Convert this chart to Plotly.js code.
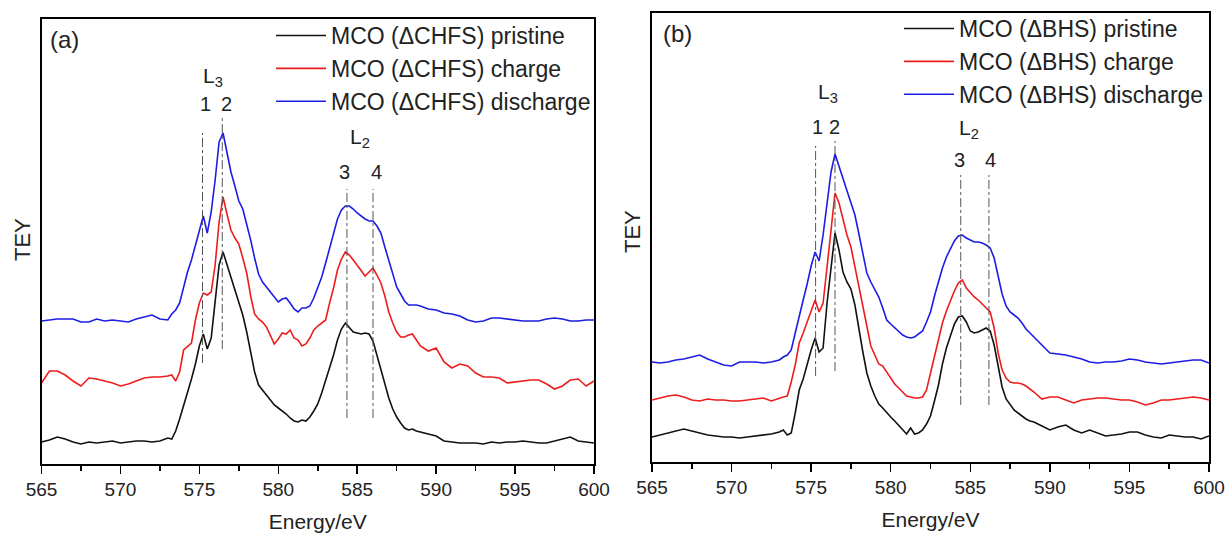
<!DOCTYPE html>
<html>
<head>
<meta charset="utf-8">
<script src="https://cdn.plot.ly/plotly-3.0.1.min.js"></script>
<style>html,body{margin:0;padding:0;background:#fff;}#chart{width:1228px;height:534px;}</style>
</head>
<body>
<div id="chart"></div>
<script>
// Photon energy (eV), shared by both panels
const energy = [565,565.5,566,566.5,567,567.5,568,568.5,569,569.5,570,570.5,571,571.5,572,572.5,573,
573.25,573.5,573.75,574,574.25,574.5,574.75,575,575.25,575.5,575.75,576,576.25,576.5,576.75,577,577.25,577.5,577.75,578,578.25,578.5,578.75,579,579.25,579.5,579.75,580,580.25,580.5,580.75,581,581.25,581.5,581.75,582,582.25,582.5,582.75,583,583.25,583.5,583.75,584,584.25,584.5,584.75,585,585.25,585.5,585.75,586,586.25,586.5,586.75,587,587.25,587.5,587.75,588,588.25,588.5,588.75,589,
589.5,590,590.5,591,591.5,592,592.5,593,593.5,594,594.5,595,595.5,596,596.5,597,597.5,598,598.5,599,599.5,600];

// Panel (a): MCO (ΔCHFS), TEY (arb. units, curves offset)
const pristineA = [22,24,27,25,22,20,22,21,22,23,21,22,23,23,22,23,26,
25,33,45,58,72,85,100,118,130,115,126,166,199,212,199,187,174,162,149,132,112,92,79,74,70,65,59,56,53,50,46,43,42,44,43,47,53,60,71,83,96,109,124,135,141,137,132,131,130,131,130,123,109,95,80,66,55,47,41,36,34,35,33,32,
30,28,23,22,21,21,21,20,22,21,22,22,23,22,21,21,23,25,27,23,22,21];
const chargeA = [81,93,93,89,83,78,86,85,83,81,78,80,83,86,87,87,88,
89,83,92,114,118,121,144,161,171,169,172,199,242,267,250,234,226,220,206,191,168,150,145,142,137,129,120,125,131,130,134,126,124,118,120,126,134,138,141,144,161,176,194,205,212,209,204,199,193,188,192,196,189,181,168,152,141,132,127,127,129,130,124,118,
113,116,102,96,100,98,91,87,87,86,81,82,83,84,84,80,75,78,84,85,78,83];
const dischargeA = [143,144,145,145,145,142,142,145,143,144,143,142,145,147,149,145,144,
150,154,161,177,192,204,219,234,248,231,252,284,322,331,310,292,278,263,255,240,224,206,190,182,177,172,168,162,165,166,161,155,152,156,156,158,166,176,187,201,216,231,245,254,258,258,255,251,248,245,243,243,238,231,217,203,189,177,170,163,159,159,159,158,
155,154,151,150,148,144,142,143,146,146,145,144,143,143,143,145,146,145,143,143,144,144];

// Panel (b): MCO (ΔBHS)
const pristineB = [25,27,29,31,33,31,29,27,26,25,25,24,25,26,27,28,30,
32,27,29,49,72,83,99,112,124,110,114,159,194,229,212,190,180,173,157,132,110,89,76,66,58,54,49,45,41,37,32,28,34,28,29,32,38,46,61,77,98,114,126,138,145,146,140,131,129,130,132,134,131,117,96,75,63,57,52,49,46,43,41,40,
36,32,35,37,32,29,32,29,26,27,28,30,30,27,25,24,27,26,25,25,23,26];
const chargeB = [62,64,66,67,65,62,61,63,62,62,61,61,62,63,64,61,64,
65,66,80,97,119,129,140,151,162,150,159,195,232,269,259,242,227,215,196,175,155,136,116,106,98,96,90,84,78,74,70,66,65,64,64,65,72,89,105,124,139,151,162,171,179,182,174,169,165,162,158,154,150,134,109,92,84,80,79,79,78,76,73,70,
63,65,65,62,59,62,63,64,64,63,62,62,60,57,59,62,62,63,64,65,64,62];
const dischargeB = [100,99,100,102,103,105,107,103,100,97,96,100,100,100,99,100,102,
105,107,112,129,147,162,178,196,210,201,227,257,290,308,296,282,272,259,247,228,209,189,180,173,165,154,142,138,134,131,127,125,124,125,128,131,140,150,166,180,194,205,213,221,226,227,224,222,220,220,219,217,214,204,186,168,156,150,147,144,139,133,129,125,
117,109,108,107,105,103,100,99,100,100,101,103,102,100,99,98,99,100,101,102,102,99];

const namesA = ['MCO (ΔCHFS) pristine','MCO (ΔCHFS) charge','MCO (ΔCHFS) discharge'];
const namesB = ['MCO (ΔBHS) pristine','MCO (ΔBHS) charge','MCO (ΔBHS) discharge'];
const colors = ['#111111','#ee1c1c','#1c1ce6'];

// Peak marker lines: energy, bottom, top (TEY units)
const peakLabels = ['1','2','3','4'];
const peakEA = [575.2, 576.45, 584.35, 586.0];
const peakLoA = [101, 115, 46, 46];
const peakHiA = [331, 346, 275, 275];
const peakEB = [575.28, 576.5, 584.4, 586.17];
const peakLoB = [86, 91, 57, 57];
const peakHiB = [316, 321, 287, 287];
const labelEA = [575.36, 576.72, 584.2, 586.2];
const labelYA = [360, 360, 292, 292];
const labelEB = [575.4, 576.45, 584.3, 586.25];
const labelYB = [335, 335, 302, 302];

const FONT = 'Liberation Sans, Arial, Helvetica, sans-serif';

const seriesA = [pristineA, chargeA, dischargeA];
const seriesB = [pristineB, chargeB, dischargeB];
const traces = [];
seriesA.forEach((s, i) => traces.push({x: energy, y: s, name: namesA[i], type: 'scatter', mode: 'lines',
  line: {color: colors[i], width: 1.6}, xaxis: 'x', yaxis: 'y', legend: 'legend'}));
seriesB.forEach((s, i) => traces.push({x: energy, y: s, name: namesB[i], type: 'scatter', mode: 'lines',
  line: {color: colors[i], width: 1.6}, xaxis: 'x2', yaxis: 'y2', legend: 'legend2'}));

function xax(domain, anchor) {
  return {domain: domain, anchor: anchor, range: [565, 600], showline: true, mirror: true, linecolor: '#000', linewidth: 1.6,
    ticks: 'outside', ticklen: 8, tickwidth: 1.5, tickcolor: '#000', dtick: 5, tick0: 565,
    minor: {ticks: 'outside', ticklen: 5, tickwidth: 1.5, dtick: 2.5, tickcolor: '#000'},
    showgrid: false, zeroline: false, automargin: false, ticklabelstandoff: 0,
    tickfont: {family: FONT, size: 19, color: '#222'},
    title: {text: 'Energy/eV', font: {family: FONT, size: 21, color: '#222'}, standoff: 15}};
}
function yax(domain, top, anchor) {
  return {domain: domain, anchor: anchor, range: [0, top], showline: true, mirror: true, linecolor: '#000', linewidth: 1.6,
    ticks: '', showticklabels: false, showgrid: false, zeroline: false, automargin: false, fixedrange: true};
}

const shapes = [];
const annotations = [];
function addPeaks(E, lo, hi, xr, yr) {
  E.forEach((e, i) => shapes.push({type: 'line', xref: xr, yref: yr, x0: e, x1: e, y0: lo[i], y1: hi[i],
    line: {color: '#555', width: 1, dash: 'dashdot'}}));
}
addPeaks(peakEA, peakLoA, peakHiA, 'x', 'y');
addPeaks(peakEB, peakLoB, peakHiB, 'x2', 'y2');

function label(text, x, y, xr, yr, size) {
  annotations.push({text: text, x: x, y: y, xref: xr, yref: yr, showarrow: false,
    font: {family: FONT, size: size, color: '#222'}, xanchor: 'center', yanchor: 'middle'});
}
labelEA.forEach((e, i) => label(peakLabels[i], e, labelYA[i], 'x', 'y', 20));
labelEB.forEach((e, i) => label(peakLabels[i], e, labelYB[i], 'x2', 'y2', 20));
label('L<sub>3</sub>', 575.85, 387, 'x', 'y', 21);
label('L<sub>2</sub>', 585.2, 326, 'x', 'y', 21);
label('L<sub>3</sub>', 576.05, 369, 'x2', 'y2', 21);
label('L<sub>2</sub>', 584.95, 333, 'x2', 'y2', 21);
function paperText(text, px, py, size, angle) {
  annotations.push({text: text, x: px/1228, y: 1 - py/534, xref: 'paper', yref: 'paper', showarrow: false,
    textangle: angle || 0, font: {family: FONT, size: size, color: '#222'}, xanchor: 'center', yanchor: 'middle'});
}
paperText('(a)', 64, 40, 24);
paperText('(b)', 677, 33, 24);
paperText('TEY', 22, 240, 22, -90);
paperText('TEY', 633, 232, 22, -90);

function leg(x, y) {
  return {x: x, y: y, xanchor: 'left', yanchor: 'top', bgcolor: 'rgba(0,0,0,0)', borderwidth: 0,
    itemwidth: 50, font: {family: FONT, size: 23, color: '#222'}, tracegroupgap: 0};
}

const layout = {
  width: 1228, height: 534, margin: {l: 0, r: 0, t: 0, b: 0},
  paper_bgcolor: '#fff', plot_bgcolor: '#fff', showlegend: true,
  xaxis: xax([41.5/1228, 594/1228], 'y'),
  yaxis: yax([1 - 464/534, 1 - 18.5/534], 445.5, 'x'),
  xaxis2: xax([652/1228, 1209/1228], 'y2'),
  yaxis2: yax([1 - 462/534, 1 - 13/534], 449, 'x2'),
  legend: leg(271/1228, 1 - 14/534),
  legend2: leg(899/1228, 1 - 7/534),
  shapes: shapes, annotations: annotations
};
Plotly.newPlot('chart', traces, layout, {displayModeBar: false, staticPlot: true});
</script>
</body>
</html>
